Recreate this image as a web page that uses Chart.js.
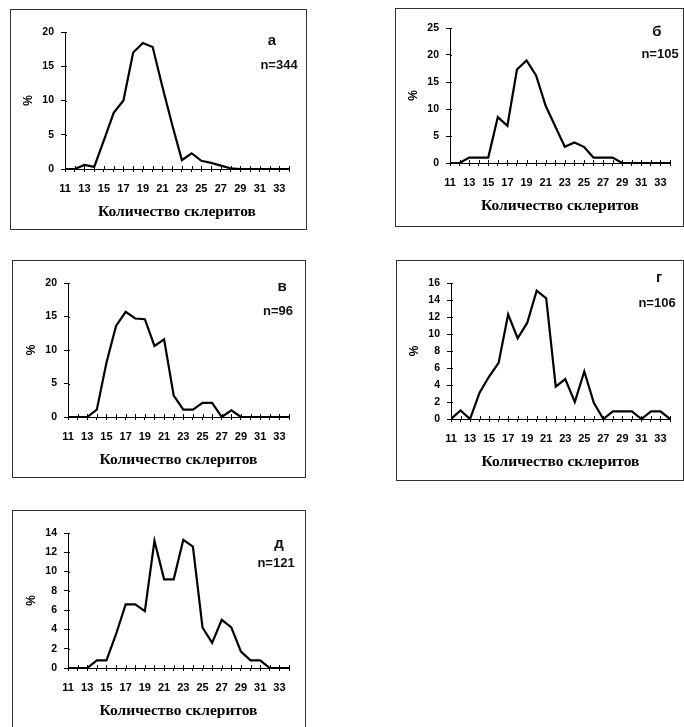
<!DOCTYPE html>
<html>
<head>
<meta charset="utf-8">
<script src="https://cdn.jsdelivr.net/npm/chart.js@4/dist/chart.umd.min.js"></script>
<style>
  html, body { margin: 0; padding: 0; background: #fff; width: 684px; height: 727px; overflow: hidden; position: relative; }
  .frame { position: absolute; border: 1px solid #333; box-sizing: border-box; background: #fff; }
  .frame canvas { display: block; }
  .note { position: absolute; font: bold 13px "Liberation Sans", Arial, sans-serif; color: #111; transform: translate(-50%, -50%); white-space: nowrap; }
  .letter { font-size: 15px; }
</style>
</head>
<body>

<script>
// Количество склеритов (ось X)
const counts = [11, 12, 13, 14, 15, 16, 17, 18, 19, 20, 21, 22, 23, 24, 25, 26, 27, 28, 29, 30, 31, 32, 33, 34];

// Доля особей, % (по панелям)
const pctA = [0, 0, 0.6, 0.3, 4.2, 8.2, 10, 17, 18.4, 17.8, 12, 6.5, 1.3, 2.3, 1.2, 0.9, 0.5, 0.1, 0, 0, 0, 0, 0, 0];
const pctB = [0, 0, 1, 1, 1, 8.5, 6.9, 17.3, 19, 16.2, 10.6, 6.8, 3, 3.8, 3, 1, 1, 1, 0, 0, 0, 0, 0, 0];
const pctV = [0, 0, 0, 1.1, 8.1, 13.6, 15.7, 14.7, 14.6, 10.6, 11.6, 3.2, 1.1, 1.1, 2.1, 2.1, 0, 1, 0, 0, 0, 0, 0, 0];
const pctG = [0, 1, 0, 3.1, 5, 6.6, 12.3, 9.5, 11.3, 15.1, 14.2, 3.8, 4.7, 2, 5.6, 1.9, 0, 0.9, 0.9, 0.9, 0, 0.9, 0.9, 0];
const pctD = [0, 0, 0, 0.8, 0.8, 3.5, 6.6, 6.6, 5.9, 13.2, 9.2, 9.2, 13.3, 12.6, 4.2, 2.6, 5, 4.2, 1.7, 0.8, 0.8, 0, 0, 0];

// Подписи панелей
const panels = [
  { letter: 'а', n: 'n=344', data: pctA, yMax: 20, yStep: 5,
    frame: [10, 9, 297, 221], area: [65, 32, 289, 169], letterXY: [272, 39], nXY: [279, 64] },
  { letter: 'б', n: 'n=105', data: pctB, yMax: 25, yStep: 5,
    frame: [395, 8, 289, 219], area: [450, 28, 670, 163], letterXY: [657, 30], nXY: [660, 53] },
  { letter: 'в', n: 'n=96', data: pctV, yMax: 20, yStep: 5,
    frame: [12, 260, 294, 218], area: [68, 283, 289, 417], letterXY: [282, 285], nXY: [278, 310] },
  { letter: 'г', n: 'n=106', data: pctG, yMax: 16, yStep: 2,
    frame: [396, 260, 288, 221], area: [451, 283, 670, 419], letterXY: [659, 276], nXY: [657, 302] },
  { letter: 'д', n: 'n=121', data: pctD, yMax: 14, yStep: 2,
    frame: [12, 510, 294, 230], area: [68, 533, 289, 668], letterXY: [279, 542], nXY: [276, 562] }
];

const Y_W = 44;   // ширина оси Y
const X_H = 52;   // высота оси X

// засечки оси X пересекают ось (рисуем верхнюю половину)
const crossTicks = {
  id: 'crossTicks',
  afterDraw(chart) {
    const x = chart.scales.x, y = chart.scales.y;
    const ctx = chart.ctx;
    const y0 = y.getPixelForValue(0);
    ctx.save();
    ctx.strokeStyle = '#000';
    ctx.lineWidth = 1;
    x.ticks.forEach(t => {
      const px = Math.round(x.getPixelForValue(t.value)) + 0.5;
      ctx.beginPath();
      ctx.moveTo(px, y0 - 3);
      ctx.lineTo(px, y0);
      ctx.stroke();
    });
    y.ticks.forEach(t => {
      const py = Math.round(y.getPixelForValue(t.value)) + 0.5;
      ctx.beginPath();
      ctx.moveTo(x.left, py);
      ctx.lineTo(x.left + 2, py);
      ctx.stroke();
    });
    ctx.restore();
  }
};

function makePanel(p) {
  const [fx, fy, fw, fh] = p.frame;
  const [L, T, R, B] = p.area;
  const div = document.createElement('div');
  div.className = 'frame';
  div.style.left = fx + 'px';
  div.style.top = fy + 'px';
  div.style.width = fw + 'px';
  div.style.height = fh + 'px';
  const cv = document.createElement('canvas');
  cv.width = fw - 2;
  cv.height = fh - 2;
  div.appendChild(cv);
  document.body.appendChild(div);

  const innerL = fx + 1, innerT = fy + 1, innerR = fx + fw - 1, innerB = fy + fh - 1;

  new Chart(cv.getContext('2d'), {
    type: 'line',
    data: {
      datasets: [{
        data: counts.map((c, i) => ({ x: c, y: p.data[i] })),
        borderColor: '#000',
        borderWidth: 2.2,
        pointRadius: 0,
        tension: 0,
        fill: false
      }]
    },
    options: {
      responsive: false,
      animation: false,
      layout: {
        padding: {
          left: L - innerL - Y_W,
          top: T - innerT,
          right: innerR - R,
          bottom: innerB - B - X_H
        }
      },
      plugins: { legend: { display: false }, tooltip: { enabled: false } },
      scales: {
        x: {
          type: 'linear',
          min: 11,
          max: 34,
          afterFit: s => { s.height = X_H; },
          border: { display: true, color: '#000', width: 1 },
          grid: { drawOnChartArea: false, drawTicks: true, tickLength: 3, color: '#000' },
          ticks: {
            stepSize: 1,
            autoSkip: false,
            maxRotation: 0,
            padding: 10,
            color: '#000',
            font: { family: 'Liberation Sans', size: 11, weight: 'bold' },
            callback: v => (v % 2 === 1 && v <= 33) ? v : ''
          },
          title: {
            display: true,
            text: 'Количество склеритов',
            color: '#000',
            padding: 0,
            font: { family: 'Liberation Serif', size: 15.5, weight: 'bold' }
          }
        },
        y: {
          min: 0,
          max: p.yMax,
          afterFit: s => { s.width = Y_W; },
          border: { display: true, color: '#000', width: 1 },
          grid: { drawOnChartArea: false, drawTicks: true, tickLength: 4, color: '#000' },
          ticks: {
            stepSize: p.yStep,
            padding: 7,
            color: '#000',
            font: { family: 'Liberation Sans', size: 10.5, weight: 'bold' }
          },
          title: {
            display: true,
            text: '%',
            color: '#000',
            padding: 0,
            font: { family: 'Liberation Sans', size: 12, weight: 'bold' }
          }
        }
      }
    },
    plugins: [crossTicks]
  });

  const l = document.createElement('div');
  l.className = 'note letter';
  l.textContent = p.letter;
  l.style.left = p.letterXY[0] + 'px';
  l.style.top = p.letterXY[1] + 'px';
  document.body.appendChild(l);

  const n = document.createElement('div');
  n.className = 'note';
  n.textContent = p.n;
  n.style.left = p.nXY[0] + 'px';
  n.style.top = p.nXY[1] + 'px';
  document.body.appendChild(n);
}

panels.forEach(makePanel);
</script>
</body>
</html>
